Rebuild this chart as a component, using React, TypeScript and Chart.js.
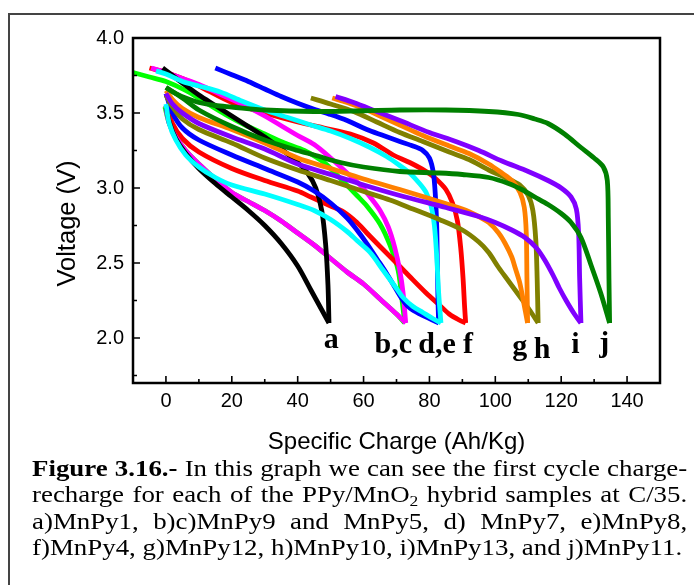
import { useEffect, useRef } from "react";
import { Chart, registerables } from "chart.js";

Chart.register(...registerables);

type P = [number, number];

// Axis ticks
const xTickValues = [0, 20, 40, 60, 80, 100, 120, 140];
const xMinorTicks = [10, 30, 50, 70, 90, 110, 130];
const yTickValues = [2.0, 2.5, 3.0, 3.5, 4.0];
const yMinorTicks = [1.75, 2.25, 2.75, 3.25, 3.75];

const xTitle = "Specific Charge (Ah/Kg)";
const yTitle = "Voltage (V)";

// Curve labels (text and data-space anchor)
const curveLabels = ["a", "b,c", "d,e", "f", "g", "h", "i", "j"];
const curveLabelX = [50.2, 69, 82.3, 91.7, 107.4, 114.2, 124.3, 133.1];
const curveLabelY = [1.933, 1.9, 1.9, 1.9, 1.887, 1.867, 1.9, 1.907];

// a) MnPy1 - black
const aUpper: P[] = [[-1, 3.8], [5, 3.7], [10, 3.62], [15, 3.55], [20, 3.48], [25, 3.41], [30, 3.34], [35, 3.26], [40, 3.17], [43, 3.1], [45.5, 3.0], [47.3, 2.85], [48.5, 2.62], [49.2, 2.35], [49.5, 2.1]];
const aLower: P[] = [[49.5, 2.1], [47, 2.2], [44, 2.32], [40, 2.48], [35, 2.63], [30, 2.75], [25, 2.85], [20, 2.94], [15, 3.03], [10, 3.13], [6, 3.23], [3, 3.33], [1, 3.44], [0, 3.55]];
// b) MnPy9 - lime
const bUpper: P[] = [[-10, 3.77], [-5, 3.74], [0, 3.71], [6, 3.65], [12, 3.57], [18, 3.49], [24, 3.42], [30, 3.36], [36, 3.3], [42, 3.25], [48, 3.17], [54, 3.04], [58, 2.95], [61, 2.88], [65, 2.76], [68, 2.62], [70.5, 2.45], [71.7, 2.25], [72.5, 2.1]];
const bLower: P[] = [[72.5, 2.1], [70, 2.16], [65, 2.26], [60, 2.36], [55, 2.44], [50, 2.53], [45, 2.62], [40, 2.7], [35, 2.78], [30, 2.85], [25, 2.91], [20, 2.97], [15, 3.06], [10, 3.16], [6, 3.25], [3, 3.34], [1, 3.43], [-0.3, 3.54]];
// c) MnPy5 - magenta
const cUpper: P[] = [[-4.5, 3.8], [0, 3.77], [5, 3.73], [10, 3.69], [17, 3.62], [24, 3.55], [30, 3.48], [40, 3.35], [45, 3.29], [50, 3.2], [55, 3.1], [59, 3.02], [62, 2.94], [65, 2.85], [67.5, 2.74], [69.5, 2.6], [71, 2.45], [72, 2.3], [72.8, 2.1]];
const cLower: P[] = [[72.8, 2.1], [70, 2.16], [65, 2.26], [60, 2.36], [55, 2.44], [50, 2.53], [45, 2.62], [40, 2.7], [35, 2.78], [30, 2.85], [25, 2.91], [20, 2.97], [15, 3.06], [10, 3.16], [6, 3.25], [3, 3.34], [1, 3.43], [0, 3.53]];
// d) MnPy7 - blue
const dUpper: P[] = [[15, 3.8], [20, 3.755], [25, 3.71], [30, 3.66], [35, 3.61], [40, 3.565], [45, 3.525], [50, 3.49], [55, 3.45], [61, 3.39], [66, 3.35], [71, 3.31], [75, 3.28], [78, 3.25], [80, 3.2], [81.2, 3.1], [81.8, 2.95], [82.2, 2.75], [82.4, 2.5], [82.6, 2.25], [82.8, 2.1]];
const dLower: P[] = [[82.8, 2.1], [80, 2.13], [77, 2.16], [74, 2.2], [72, 2.25], [70, 2.32], [67, 2.43], [64, 2.53], [61, 2.63], [58, 2.72], [55, 2.8], [50, 2.9], [45, 2.98], [40, 3.04], [30, 3.13], [20, 3.22], [10, 3.32], [5, 3.4], [2, 3.5], [0, 3.63]];
// e) MnPy8 - cyan
const eUpper: P[] = [[-3, 3.78], [0, 3.76], [5, 3.71], [10, 3.68], [16.5, 3.64], [23, 3.58], [30, 3.52], [37, 3.47], [44, 3.42], [50, 3.38], [56, 3.33], [62, 3.27], [67, 3.21], [71, 3.15], [74, 3.1], [77, 3.03], [79, 2.97], [80.5, 2.88], [81.5, 2.75], [82.2, 2.55], [82.8, 2.3], [83.5, 2.1]];
const eLower: P[] = [[83.5, 2.1], [81, 2.13], [78, 2.17], [75, 2.21], [72, 2.27], [70, 2.33], [66, 2.45], [62, 2.57], [58, 2.65], [55, 2.71], [50, 2.79], [45, 2.85], [40, 2.89], [30, 2.96], [20, 3.02], [15, 3.07], [10, 3.14], [6, 3.22], [3, 3.32], [1, 3.43], [0, 3.56]];
// f) MnPy4 - red
const fUpper: P[] = [[-5, 3.8], [0, 3.77], [5, 3.73], [10, 3.68], [20, 3.57], [30, 3.5], [40, 3.44], [48, 3.4], [56, 3.36], [63, 3.3], [69, 3.22], [74, 3.17], [79, 3.11], [82, 3.06], [85, 2.99], [87, 2.9], [88.5, 2.78], [89.5, 2.6], [90.2, 2.4], [90.7, 2.2], [91, 2.1]];
const fLower: P[] = [[91, 2.1], [89, 2.12], [86, 2.16], [83, 2.22], [79, 2.3], [74, 2.41], [70, 2.5], [65, 2.61], [61, 2.7], [58, 2.77], [54, 2.84], [50, 2.88], [44, 2.94], [40, 2.98], [30, 3.05], [20, 3.13], [10, 3.24], [5, 3.33], [2, 3.43], [0.5, 3.54]];
// g) MnPy12 - orange
const gUpper: P[] = [[50.5, 3.6], [55, 3.57], [60, 3.53], [65, 3.48], [71, 3.42], [78, 3.35], [86, 3.28], [92, 3.23], [98, 3.16], [102, 3.1], [105, 3.05], [107.5, 2.97], [108.8, 2.87], [109.4, 2.7], [109.6, 2.4], [109.8, 2.1]];
const gLower: P[] = [[109.8, 2.1], [108.5, 2.25], [107.4, 2.37], [106, 2.47], [105, 2.54], [103, 2.63], [101, 2.7], [98, 2.77], [95, 2.81], [90, 2.86], [80, 2.93], [71, 2.99], [60, 3.06], [50, 3.13], [40, 3.2], [30, 3.3], [20, 3.39], [10, 3.47], [5, 3.53], [2, 3.59], [0, 3.65]];
// h) MnPy10 - olive
const hUpper: P[] = [[44, 3.6], [50, 3.56], [57, 3.51], [64, 3.44], [71, 3.37], [78, 3.31], [86, 3.24], [92, 3.19], [98, 3.12], [103, 3.07], [107.4, 3.02], [110, 2.95], [111.4, 2.85], [112.3, 2.65], [112.7, 2.4], [113, 2.1]];
const hLower: P[] = [[113, 2.1], [110.3, 2.19], [108, 2.26], [106, 2.32], [104, 2.38], [101, 2.47], [98, 2.57], [95, 2.64], [90, 2.72], [83, 2.79], [75, 2.86], [68, 2.92], [61, 2.97], [50, 3.05], [40, 3.12], [30, 3.2], [20, 3.3], [10, 3.39], [5, 3.46], [2, 3.54], [0, 3.62]];
// i) MnPy13 - purple
const iUpper: P[] = [[51.5, 3.61], [57, 3.57], [64, 3.51], [71, 3.45], [80, 3.37], [88, 3.31], [95, 3.25], [102, 3.18], [110, 3.11], [116, 3.05], [120, 3.0], [123, 2.94], [124.6, 2.86], [125.3, 2.7], [125.6, 2.4], [126, 2.1]];
const iLower: P[] = [[126, 2.1], [124, 2.16], [121.5, 2.25], [119.5, 2.33], [117.5, 2.42], [115, 2.52], [112.5, 2.6], [109, 2.67], [105, 2.72], [100, 2.77], [95, 2.81], [85, 2.87], [71, 2.95], [60, 3.02], [50, 3.09], [40, 3.16], [30, 3.26], [20, 3.34], [10, 3.43], [5, 3.5], [2, 3.56], [0, 3.63]];
// j) MnPy11 - dark green
const jUpper: P[] = [[0, 3.67], [3, 3.63], [6, 3.6], [10, 3.57], [15, 3.55], [20, 3.54], [30, 3.52], [45, 3.51], [60, 3.515], [71, 3.52], [85, 3.52], [98, 3.51], [107, 3.49], [112, 3.46], [116, 3.43], [121, 3.36], [126, 3.27], [130, 3.2], [132.8, 3.14], [134, 3.05], [134.3, 2.8], [134.5, 2.4], [134.7, 2.1]];
const jLower: P[] = [[134.7, 2.1], [132, 2.3], [129, 2.49], [126, 2.67], [123, 2.77], [120, 2.83], [116, 2.89], [112, 2.94], [108, 2.99], [104, 3.03], [98, 3.07], [90, 3.09], [83, 3.1], [71, 3.11], [60, 3.14], [53, 3.17], [45, 3.22], [40, 3.25], [30, 3.32], [20, 3.41], [10, 3.52], [5, 3.6], [0, 3.67]];

// drawing order: first = bottom
const seriesOrder = [
  { name: "b", color: "#00FF00", upper: bUpper, lower: bLower },
  { name: "f", color: "#FF0000", upper: fUpper, lower: fLower },
  { name: "c", color: "#FF00FF", upper: cUpper, lower: cLower },
  { name: "a", color: "#000000", upper: aUpper, lower: aLower },
  { name: "d", color: "#0000FF", upper: dUpper, lower: dLower },
  { name: "e", color: "#00FFFF", upper: eUpper, lower: eLower },
  { name: "h", color: "#808000", upper: hUpper, lower: hLower },
  { name: "g", color: "#FF8000", upper: gUpper, lower: gLower },
  { name: "i", color: "#8000FF", upper: iUpper, lower: iLower },
  { name: "j", color: "#008000", upper: jUpper, lower: jLower },
];

const decorPlugin = {
  id: "decor",
  afterDatasetsDraw(chart: any) {
    const { ctx, chartArea: ca, scales } = chart;
    const x = scales.x;
    const y = scales.y;
    ctx.save();
    ctx.strokeStyle = "#000";
    ctx.lineWidth = 2.5;
    ctx.strokeRect(ca.left, ca.top, ca.right - ca.left, ca.bottom - ca.top);
    ctx.lineWidth = 1.6;
    ctx.beginPath();
    for (const v of xTickValues) {
      const px = x.getPixelForValue(v);
      ctx.moveTo(px, ca.bottom);
      ctx.lineTo(px, ca.bottom - 7);
    }
    for (const v of xMinorTicks) {
      const px = x.getPixelForValue(v);
      ctx.moveTo(px, ca.bottom);
      ctx.lineTo(px, ca.bottom - 4);
    }
    for (const v of yTickValues) {
      const py = y.getPixelForValue(v);
      ctx.moveTo(ca.left, py);
      ctx.lineTo(ca.left + 7, py);
    }
    for (const v of yMinorTicks) {
      const py = y.getPixelForValue(v);
      ctx.moveTo(ca.left, py);
      ctx.lineTo(ca.left + 4, py);
    }
    ctx.stroke();
    ctx.fillStyle = "#000";
    ctx.font = 'bold 30px "Liberation Serif"';
    ctx.textAlign = "center";
    ctx.textBaseline = "alphabetic";
    curveLabels.forEach((t, i) => {
      ctx.fillText(t, x.getPixelForValue(curveLabelX[i]), y.getPixelForValue(curveLabelY[i]));
    });
    // y axis title (sits a little below the plot centre in the original)
    ctx.translate(y.left + 67.8, (ca.top + ca.bottom) / 2 + 13);
    ctx.rotate(-Math.PI / 2);
    ctx.font = '25.5px "Liberation Sans"';
    ctx.textAlign = "center";
    ctx.textBaseline = "middle";
    ctx.fillText(yTitle, 0, 0);
    ctx.restore();
  },
};

export default function App() {
  const ref = useRef<HTMLCanvasElement | null>(null);
  useEffect(() => {
    if (!ref.current) return;
    const datasets: any[] = [];
    const n = seriesOrder.length;
    seriesOrder.forEach((s, i) => {
      [s.upper, s.lower].forEach((branch) => {
        datasets.push({
          label: s.name,
          data: branch.map(([px, py]) => ({ x: px, y: py })),
          showLine: true,
          borderColor: s.color,
          backgroundColor: s.color,
          borderWidth: 4.8,
          pointRadius: 0,
          pointHoverRadius: 0,
          tension: 0.3,
          borderJoinStyle: "round",
          fill: false,
          order: n - i,
        });
      });
    });
    const chart = new Chart(ref.current, {
      type: "scatter",
      data: { datasets },
      options: {
        animation: false,
        responsive: false,
        maintainAspectRatio: false,
        devicePixelRatio: 1,
        layout: { padding: { left: 0, top: 38, right: 34, bottom: 0 } },
        plugins: { legend: { display: false }, tooltip: { enabled: false } },
        events: [],
        scales: {
          x: {
            type: "linear",
            min: -10,
            max: 150,
            grid: { display: false, drawTicks: false },
            border: { display: false },
            afterBuildTicks: (s: any) => {
              s.ticks = xTickValues.map((v) => ({ value: v }));
            },
            afterFit: (s: any) => {
              s.height = 77;
            },
            ticks: {
              autoSkip: false,
              maxRotation: 0,
              padding: 6,
              color: "#000",
              font: { family: '"Liberation Sans"', size: 20 },
              callback: (v: any) => String(v),
            },
            title: {
              display: true,
              text: xTitle,
              color: "#000",
              font: { family: '"Liberation Sans"', size: 24 },
              padding: { top: 0, bottom: 3 },
            },
          },
          y: {
            type: "linear",
            min: 1.7,
            max: 4.0,
            grid: { display: false, drawTicks: false },
            border: { display: false },
            afterBuildTicks: (s: any) => {
              s.ticks = yTickValues.map((v) => ({ value: v }));
            },
            afterFit: (s: any) => {
              s.width = 133;
            },
            ticks: {
              autoSkip: false,
              padding: 9,
              color: "#000",
              font: { family: '"Liberation Sans"', size: 20 },
              callback: (v: any) => Number(v).toFixed(1),
            },
            title: { display: false },
          },
        },
      },
      plugins: [decorPlugin],
    });
    return () => chart.destroy();
  }, []);

  const lineJ: React.CSSProperties = { width: 585, textAlign: "justify", textAlignLast: "justify" as any };
  const lineL: React.CSSProperties = { width: 585, textAlign: "left", whiteSpace: "nowrap" };

  return (
    <div style={{ position: "absolute", left: 0, top: 0, width: 694, height: 585, overflow: "hidden", background: "#fff" }}>
      <div style={{ position: "absolute", left: 8, top: 13, width: 700, height: 600, borderLeft: "2px solid #444", borderTop: "2px solid #444" }} />
      <canvas ref={ref} width={694} height={460} style={{ position: "absolute", left: 0, top: 0, width: 694, height: 460 }} />
      <div
        style={{
          position: "absolute",
          left: 32,
          top: 454.6,
          transform: "scaleX(1.12)",
          transformOrigin: "0 0",
          fontFamily: '"Liberation Serif"',
          fontSize: 24,
          lineHeight: "26.6px",
          color: "#000",
        }}
      >
        <div style={lineJ}>
          <b>Figure 3.16.-</b> In this graph we can see the first cycle charge-
        </div>
        <div style={lineJ}>
          recharge for each of the PPy/MnO
          <span style={{ fontSize: "0.65em", verticalAlign: "-0.25em", lineHeight: 0 }}>2</span> hybrid samples at C/35.
        </div>
        <div style={lineJ}>a)MnPy1, b)c)MnPy9 and MnPy5, d) MnPy7, e)MnPy8,</div>
        <div style={lineL}>f)MnPy4, g)MnPy12, h)MnPy10, i)MnPy13, and j)MnPy11.</div>
      </div>
    </div>
  );
}
